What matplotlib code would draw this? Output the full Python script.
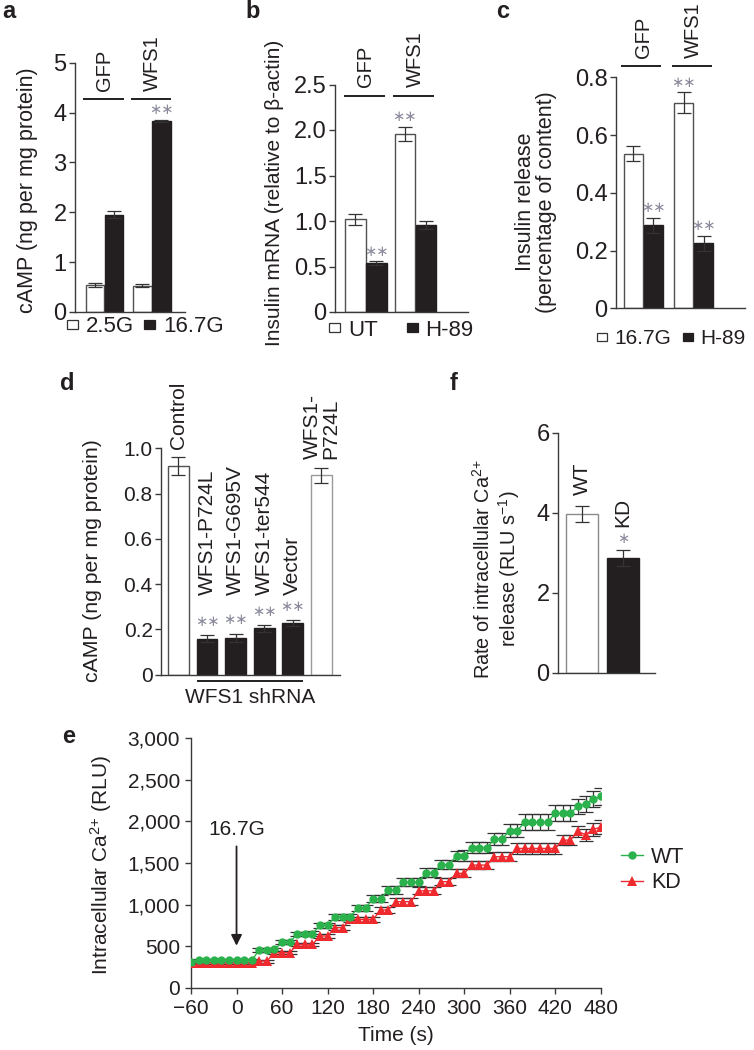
import matplotlib
matplotlib.use('Agg')
import matplotlib.pyplot as plt
from matplotlib.patches import Patch
from matplotlib.lines import Line2D
from matplotlib.ticker import FuncFormatter

plt.rcParams['font.family'] = ['Liberation Sans', 'DejaVu Sans']
plt.rcParams['mathtext.default'] = 'regular'

TEXT = '#231f20'
BLACK = '#231f20'
SPINE = '#3a3a3a'
STAR = '#8a8a9c'
GREEN = '#2bb24c'
RED = '#ee2a2f'

# ---------------- data ----------------
a_groups = ['GFP', 'WFS1']
a_conds = ['2.5G', '16.7G']
a_vals = [[0.55, 1.95], [0.53, 3.83]]
a_errs = [[0.04, 0.07], [0.03, 0.02]]
a_stars = [['', ''], ['', '∗∗']]
a_yticks = [0, 1, 2, 3, 4, 5]
a_yticklabels = ['0', '1', '2', '3', '4', '5']

b_groups = ['GFP', 'WFS1']
b_conds = ['UT', 'H-89']
b_vals = [[1.02, 0.535], [1.955, 0.955]]
b_errs = [[0.06, 0.02], [0.08, 0.04]]
b_stars = [['', '∗∗'], ['∗∗', '']]
b_yticks = [0, 0.5, 1.0, 1.5, 2.0, 2.5]
b_yticklabels = ['0', '0.5', '1.0', '1.5', '2.0', '2.5']

c_groups = ['GFP', 'WFS1']
c_conds = ['16.7G', 'H-89']
c_vals = [[0.535, 0.288], [0.712, 0.226]]
c_errs = [[0.026, 0.026], [0.036, 0.026]]
c_stars = [['', '∗∗'], ['∗∗', '∗∗']]
c_yticks = [0, 0.2, 0.4, 0.6, 0.8]
c_yticklabels = ['0', '0.2', '0.4', '0.6', '0.8']

d_labels = ['Control', 'WFS1-P724L', 'WFS1-G695V', 'WFS1-ter544', 'Vector', 'WFS1-\nP724L']
d_vals = [0.92, 0.158, 0.163, 0.204, 0.229, 0.88]
d_errs = [0.04, 0.015, 0.018, 0.015, 0.013, 0.035]
d_shrna = [False, True, True, True, True, False]
d_stars = ['', '∗∗', '∗∗', '∗∗', '∗∗', '']
d_yticks = [0, 0.2, 0.4, 0.6, 0.8, 1.0]
d_yticklabels = ['0', '0.2', '0.4', '0.6', '0.8', '1.0']

f_labels = ['WT', 'KD']
f_vals = [3.96, 2.875]
f_errs = [0.2, 0.2]
f_stars = ['', '∗']
f_yticks = [0, 2, 4, 6]

e_time = [-60, -50, -40, -30, -20, -10, 0, 10, 20, 30, 40, 50, 60, 70, 80, 90, 100,
          110, 120, 130, 140, 150, 160, 170, 180, 190, 200, 210, 220, 230, 240, 250,
          260, 270, 280, 290, 300, 310, 320, 330, 340, 350, 360, 370, 380, 390, 400,
          410, 420, 430, 440, 450, 460, 470, 480]
e_wt = [310, 330, 330, 330, 330, 330, 330, 330, 330, 455, 455, 460, 545, 545, 645, 645, 648,
        750, 750, 855, 855, 855, 960, 960, 1070, 1070, 1175, 1175, 1270, 1270, 1270, 1385,
        1385, 1480, 1480, 1590, 1590, 1685, 1685, 1685, 1790, 1790, 1890, 1890, 1990, 1990, 1990,
        1990, 2100, 2100, 2100, 2180, 2210, 2270, 2300]
e_wt_err = [15, 15, 15, 15, 15, 15, 15, 15, 18, 20, 20, 22, 25, 25, 28, 28, 30,
            30, 32, 35, 35, 35, 38, 38, 40, 40, 45, 45, 50, 50, 52, 55,
            55, 58, 58, 60, 62, 68, 70, 70, 72, 72, 75, 75, 95, 95, 95,
            95, 95, 95, 95, 88, 100, 95, 108]
e_kd = [300, 300, 300, 300, 300, 300, 300, 300, 300, 320, 320, 420, 420, 420, 520, 520, 520,
        622, 622, 722, 722, 822, 822, 822, 822, 935, 935, 1035, 1035, 1035, 1165, 1165,
        1165, 1275, 1275, 1375, 1375, 1475, 1475, 1475, 1575, 1575, 1575, 1675, 1675, 1675, 1675,
        1675, 1675, 1775, 1775, 1880, 1840, 1905, 1930]
e_kd_err = [15, 15, 15, 15, 15, 15, 15, 15, 15, 18, 18, 20, 20, 20, 22, 22, 22,
            25, 25, 28, 28, 30, 30, 30, 30, 35, 35, 38, 38, 38, 42, 42,
            42, 45, 45, 48, 48, 52, 52, 52, 55, 55, 55, 65, 65, 65, 65,
            65, 65, 62, 62, 70, 72, 78, 85]
e_xticks = [-60, 0, 60, 120, 180, 240, 300, 360, 420, 480]
e_yticks = [0, 500, 1000, 1500, 2000, 2500, 3000]

# ---------------- figure ----------------
W, H = 754, 1050
fig = plt.figure(figsize=(W / 100, H / 100), dpi=100)
fig.patch.set_facecolor('white')


def px_axes(l, t, r, b):
    return fig.add_axes([l / W, 1 - b / H, (r - l) / W, (b - t) / H])


def style(ax, fs, xticks=False):
    for s in ['top', 'right']:
        ax.spines[s].set_visible(False)
    for s in ['left', 'bottom']:
        ax.spines[s].set_color(SPINE)
        ax.spines[s].set_linewidth(1.0)
    ax.tick_params(axis='y', direction='out', length=4, width=1, color=SPINE,
                   labelsize=fs, labelcolor=TEXT, pad=2)
    if xticks:
        ax.tick_params(axis='x', direction='out', length=4, width=1, color=SPINE,
                       labelsize=fs, labelcolor=TEXT, pad=4)
    else:
        ax.tick_params(axis='x', length=0, labelbottom=False)


def grouped(ax, groups, conds, vals, errs, stars, gap, uline, line_y, label_y, gfs):
    for gi, g in enumerate(groups):
        base = gi * gap
        for ci in range(len(conds)):
            x = base + ci
            fc = 'white' if ci == 0 else BLACK
            ec = '#505050' if ci == 0 else BLACK
            ax.bar(x, vals[gi][ci], width=0.96, color=fc, edgecolor=ec, lw=1.0,
                   yerr=errs[gi][ci], capsize=5,
                   error_kw=dict(ecolor='#333333', elinewidth=0.9, capthick=0.9), zorder=2)
            if stars[gi][ci]:
                ax.annotate(stars[gi][ci], (x, vals[gi][ci] + errs[gi][ci]), xytext=(0, 7),
                            textcoords='offset points', ha='center', va='center',
                            color=STAR, fontsize=10.5, annotation_clip=False)
        ax.plot([base + uline[0], base + uline[1]], [line_y, line_y], color=TEXT, lw=1.4,
                clip_on=False, solid_capstyle='butt')
        ax.text(base + 0.5, label_y, g, rotation=90, ha='center', va='bottom',
                fontsize=gfs, color=TEXT)


def patch_legend(ax, conds, x, y, colsp, fs=16):
    handles = [Patch(facecolor='white', edgecolor='#333333', lw=0.9, label=conds[0]),
               Patch(facecolor=BLACK, edgecolor=BLACK, lw=0.9, label=conds[1])]
    ax.legend(handles=handles, loc='center left', bbox_to_anchor=(x / W, 1 - y / H),
              bbox_transform=fig.transFigure, ncol=2, frameon=False, fontsize=fs,
              handlelength=0.5, handleheight=0.22, handletextpad=0.35,
              columnspacing=colsp, borderpad=0, borderaxespad=0, labelcolor=TEXT)


TICK_BIG = 17
GROUP_FS = 14.5

# ---- panel a ----
ax_a = px_axes(75, 62.7, 185, 312)
grouped(ax_a, a_groups, a_conds, a_vals, a_errs, a_stars, 2.5, (-0.62, 1.52), 4.27, 4.44, GROUP_FS)
ax_a.set_xlim(-1.05, 4.74)
ax_a.set_ylim(0, 5)
ax_a.set_yticks(a_yticks)
ax_a.set_yticklabels(a_yticklabels)
style(ax_a, TICK_BIG)
patch_legend(ax_a, a_conds, 67, 327, 0.45)

# ---- panel b ----
ax_b = px_axes(335, 84.5, 468, 312)
grouped(ax_b, b_groups, b_conds, b_vals, b_errs, b_stars, 2.35, (-0.55, 1.4), 2.377, 2.47, GROUP_FS)
ax_b.set_xlim(-0.976, 5.36)
ax_b.set_ylim(0, 2.5)
ax_b.set_yticks(b_yticks)
ax_b.set_yticklabels(b_yticklabels)
style(ax_b, TICK_BIG)
patch_legend(ax_b, b_conds, 329, 330, 1.3)

# ---- panel c ----
ax_c = px_axes(616, 77.3, 745, 308.5)
grouped(ax_c, c_groups, c_conds, c_vals, c_errs, c_stars, 2.5, (-0.6, 1.4), 0.839, 0.867, GROUP_FS)
ax_c.set_xlim(-0.865, 5.56)
ax_c.set_ylim(0, 0.8)
ax_c.set_yticks(c_yticks)
ax_c.set_yticklabels(c_yticklabels)
style(ax_c, TICK_BIG)
patch_legend(ax_c, c_conds, 597, 339, 0.55, fs=15)

# ---- panel d ----
ax_d = px_axes(161, 448.3, 340, 674.5)
bw = 0.73
for i, lab in enumerate(d_labels):
    black = d_shrna[i]
    ax_d.bar(i, d_vals[i], width=bw, color=BLACK if black else 'white',
             edgecolor=BLACK if black else ('#505050' if i == 0 else '#9a9a9a'), lw=1.0,
             yerr=d_errs[i], capsize=5,
             error_kw=dict(ecolor='#333333', elinewidth=0.9, capthick=0.9), zorder=2)
    top = d_vals[i] + d_errs[i]
    if d_stars[i]:
        ax_d.annotate(d_stars[i], (i, top), xytext=(0, 9.5), textcoords='offset points',
                      ha='center', va='center', color=STAR, fontsize=10.5)
    if black:
        ax_d.text(i, 0.352, lab, rotation=90, ha='center', va='bottom', fontsize=15, color=TEXT)
    else:
        ax_d.annotate(lab, (i, top), xytext=(0, 6), textcoords='offset points', rotation=90,
                      ha='center', va='bottom', fontsize=15, color=TEXT, multialignment='left',
                      linespacing=1.0, annotation_clip=False)
sh = [i for i in range(len(d_labels)) if d_shrna[i]]
ax_d.plot([sh[0] - bw / 2, sh[-1] + bw / 2], [-0.029, -0.029], color=TEXT, lw=1.4,
          clip_on=False, solid_capstyle='butt')
ax_d.text((sh[0] + sh[-1]) / 2, -0.1, 'WFS1 shRNA', ha='center', va='center', fontsize=15,
          color=TEXT)
ax_d.set_xlim(-0.61, 5.65)
ax_d.set_ylim(0, 1.0)
ax_d.set_yticks(d_yticks)
ax_d.set_yticklabels(d_yticklabels)
style(ax_d, 15)

# ---- panel f ----
ax_f = px_axes(558, 432.7, 655, 672.7)
for i, lab in enumerate(f_labels):
    black = i == 1
    ax_f.bar(i, f_vals[i], width=0.79, color=BLACK if black else 'white',
             edgecolor=BLACK if black else '#8a8a8a', lw=1.0, yerr=f_errs[i], capsize=5,
             error_kw=dict(ecolor='#333333', elinewidth=0.9, capthick=0.9), zorder=2)
    top = f_vals[i] + f_errs[i]
    off = 8
    if f_stars[i]:
        ax_f.annotate(f_stars[i], (i, top), xytext=(0, 7.5), textcoords='offset points',
                      ha='center', va='center', color=STAR, fontsize=10.5)
        off = 16
    ax_f.annotate(lab, (i, top), xytext=(0, off), textcoords='offset points', rotation=90,
                  ha='center', va='bottom', fontsize=15, color=TEXT)
ax_f.set_xlim(-0.59, 1.78)
ax_f.set_ylim(0, 6)
ax_f.set_yticks(f_yticks)
style(ax_f, TICK_BIG)

# ---- panel e ----
ax_e = px_axes(191, 738.3, 600.7, 987.7)
ax_e.errorbar(e_time, e_wt, yerr=e_wt_err, fmt='none', ecolor='#333333', elinewidth=0.9,
              capsize=5, capthick=0.9, zorder=2)
ax_e.errorbar(e_time, e_kd, yerr=e_kd_err, fmt='none', ecolor='#333333', elinewidth=0.9,
              capsize=5, capthick=0.9, zorder=2)
ax_e.plot(e_time, e_kd, '-^', color=RED, lw=1.0, markersize=6.5, markeredgewidth=0,
          zorder=3, label='KD')
ax_e.plot(e_time, e_wt, '-o', color=GREEN, lw=1.0, markersize=6, markeredgewidth=0,
          zorder=4, label='WT')
ax_e.set_xlim(-60, 480)
ax_e.set_ylim(0, 3000)
ax_e.set_xticks(e_xticks)
ax_e.set_yticks(e_yticks)
ax_e.xaxis.set_major_formatter(FuncFormatter(lambda v, p: f'{int(v)}'.replace('-', '\u2212')))
ax_e.yaxis.set_major_formatter(FuncFormatter(lambda v, p: f'{int(v):,}'))
style(ax_e, 15, xticks=True)
ax_e.tick_params(axis='y', pad=4)
ax_e.text(0, 1900, '16.7G', ha='center', va='center', fontsize=15, color=TEXT)
ax_e.annotate('', xy=(0, 505), xytext=(0, 1700),
              arrowprops=dict(arrowstyle='-|>', color=TEXT, lw=1.3, mutation_scale=16,
                              shrinkA=0, shrinkB=0))
ax_e.set_xlabel('Time (s)', fontsize=15, color=TEXT, labelpad=6)
h_wt = Line2D([], [], color=GREEN, marker='o', lw=1.0, markersize=6, markeredgewidth=0)
h_kd = Line2D([], [], color=RED, marker='^', lw=1.0, markersize=6.5, markeredgewidth=0)
ax_e.legend([h_wt, h_kd], ['WT', 'KD'], loc='center left',
            bbox_to_anchor=(621 / W, 1 - 870 / H), bbox_transform=fig.transFigure,
            frameon=False, fontsize=15.5, handlelength=1.0, handletextpad=0.4,
            labelspacing=0.2, borderpad=0, borderaxespad=0, labelcolor=TEXT)

# ---- y labels ----
fig.text(27 / W, 1 - 190 / H, 'cAMP (ng per mg protein)', rotation=90, ha='center',
         va='center', fontsize=15.5, color=TEXT)
fig.text(274 / W, 1 - 193 / H, 'Insulin mRNA (relative to β-actin)', rotation=90,
         ha='center', va='center', fontsize=15, color=TEXT)
fig.text(536 / W, 1 - 202 / H, 'Insulin release\n(percentage of content)', rotation=90,
         ha='center', va='center', fontsize=15.5, color=TEXT, linespacing=1.05)
fig.text(93 / W, 1 - 561 / H, 'cAMP (ng per mg protein)', rotation=90, ha='center',
         va='center', fontsize=15.3, color=TEXT)
fig.text(497 / W, 1 - 569 / H, 'Rate of intracellular Ca$^{2{+}}$\nrelease (RLU s$^{-1}$)',
         rotation=90, ha='center', va='center', fontsize=14.3, color=TEXT, linespacing=1.1)
fig.text(101 / W, 1 - 865 / H, 'Intracellular Ca$^{2{+}}$ (RLU)', rotation=90, ha='center',
         va='center', fontsize=15, color=TEXT)

# ---- panel letters ----
for lab, x, y in [('a', 2, 18), ('b', 245, 18), ('c', 496, 18), ('d', 60, 390),
                  ('f', 450, 390), ('e', 62, 743)]:
    fig.text(x / W, 1 - y / H, lab, ha='left', va='baseline', fontsize=17,
             fontweight='bold', color=TEXT)

fig.savefig('out.png', dpi=100, facecolor='white')
